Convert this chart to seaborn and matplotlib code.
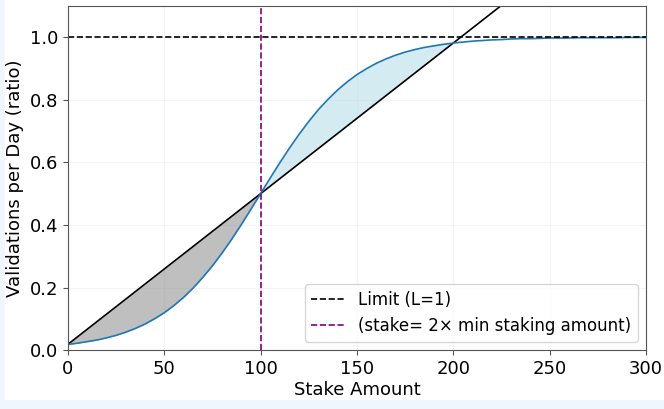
import matplotlib.pyplot as plt
import numpy as np
import pandas as pd
import seaborn as sns
from matplotlib.patches import Rectangle

# values
stake = list(range(0, 301, 5))
validations = [0.018, 0.022, 0.027, 0.032, 0.039, 0.047, 0.057, 0.069, 0.083, 0.100,
               0.119, 0.142, 0.168, 0.198, 0.232, 0.269, 0.310, 0.354, 0.401, 0.450,
               0.500, 0.550, 0.599, 0.646, 0.690, 0.731, 0.769, 0.802, 0.832, 0.858,
               0.881, 0.900, 0.917, 0.931, 0.943, 0.953, 0.961, 0.968, 0.973, 0.978,
               0.982, 0.985, 0.988, 0.990, 0.992, 0.993, 0.995, 0.996, 0.996, 0.997,
               0.998, 0.998, 0.998, 0.999, 0.999, 0.999, 0.999, 0.999, 1.000, 1.000,
               1.000]
line_stake = [0, 300]
line_values = [0.018, 1.464]
limit = 1.0
min_stake_x2 = 100

df = pd.DataFrame({'stake': stake, 'validations': validations})

sns.set_style('ticks')
plt.rcParams['font.family'] = ['DejaVu Sans']
plt.rcParams['text.color'] = 'black'
plt.rcParams['axes.labelcolor'] = 'black'
plt.rcParams['xtick.color'] = 'black'
plt.rcParams['ytick.color'] = 'black'

fig, ax = plt.subplots(figsize=(6.64, 4.09), dpi=100)
fig.patch.set_facecolor('#f0f6fd')
fig.patches.append(Rectangle((5 / 664, 9 / 409), 1, 1, transform=fig.transFigure,
                             facecolor='white', edgecolor='none', zorder=-10))
fig.subplots_adjust(left=0.102, right=0.973, top=0.985, bottom=0.144)

# straight reference line, evaluated on the curve's stakes for the shading
line_on_grid = np.interp(stake, line_stake, line_values)
x = np.array(stake)
y = np.array(validations)
ax.fill_between(x, line_on_grid, y, where=(x <= min_stake_x2), color='gray', alpha=0.5,
                interpolate=True, linewidth=0)
ax.fill_between(x, line_on_grid, y, where=(y >= line_on_grid), color='lightblue', alpha=0.5,
                interpolate=True, linewidth=0)

ax.plot(line_stake, line_values, color='black', linewidth=1.2)
sns.lineplot(data=df, x='stake', y='validations', ax=ax, color='#1f77b4', linewidth=1.2)

ax.axhline(limit, color='black', linestyle='--', linewidth=1.2, label='Limit (L=1)')
ax.axvline(min_stake_x2, color='purple', linestyle='--', linewidth=1.2,
           label='(stake= 2\u00d7 min staking amount)')

ax.set_xlim(0, 300)
ax.set_ylim(0, 1.1)
ax.set_yticks([0.0, 0.2, 0.4, 0.6, 0.8, 1.0])
ax.grid(True, alpha=0.2)
for s in ax.spines.values():
    s.set_color('#555555')
ax.tick_params(labelsize=13, color='#555555', labelcolor='black')
ax.set_xlabel('Stake Amount', fontsize=13, labelpad=2)
ax.set_ylabel('Validations per Day (ratio)', fontsize=13)
ax.legend(loc='lower right', fontsize=12)

fig.savefig('out.png', dpi=100, facecolor=fig.get_facecolor())
